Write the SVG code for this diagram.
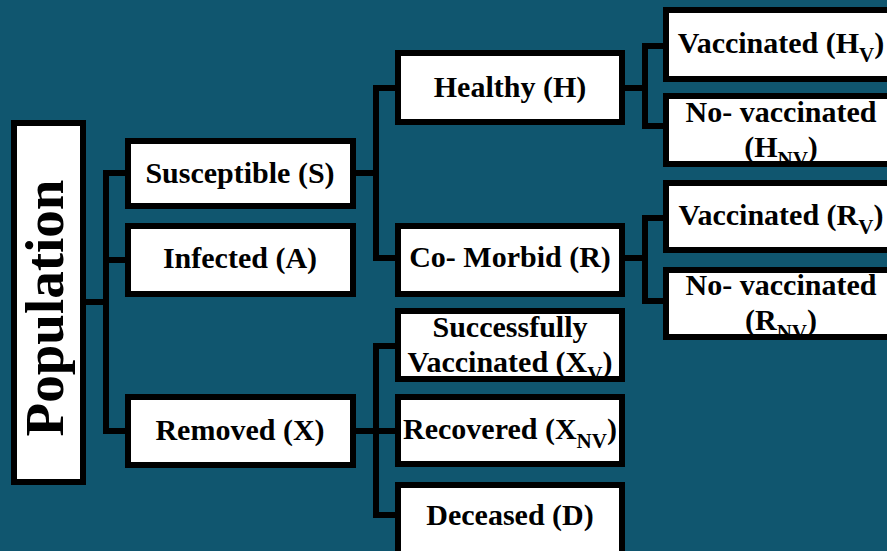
<svg xmlns="http://www.w3.org/2000/svg" width="887" height="551" viewBox="0 0 887 551">
<style>
.bg{fill:#10566F}
.fill{fill:#ffffff;stroke:none}
.frame{fill:none;stroke:#000000;stroke-width:6}
.lbl{font-family:"Liberation Serif","Times New Roman",serif;font-weight:bold;font-size:30px;fill:#000000;text-anchor:middle}
.big{font-size:55px}
.sub{font-size:21px}
.conn{fill:none;stroke:#000000;stroke-width:6;stroke-linejoin:miter;stroke-linecap:butt}
</style>
<rect class="bg" x="0" y="0" width="887" height="551"/>

<g id="connectors">
<path class="conn" d="M85 302 H106 M106 170 V434 M103 173 H126 M106 260 H126 M103 431 H126"/>
<path class="conn" d="M355 173 H376 M376 85 V261 M373 88 H396 M373 258 H396"/>
<path class="conn" d="M355 431 H376 M376 343 V518 M373 346 H396 M376 431 H396 M373 515 H396"/>
<path class="conn" d="M622 88 H645 M645 43 V129 M642 46 H664 M642 126 H664"/>
<path class="conn" d="M622 258 H645 M645 215 V304 M642 218 H664 M642 301 H664"/>
</g>

<g id="population">
<rect class="fill" x="14" y="123" width="69" height="359"/>
<text class="lbl big" transform="translate(63,308) rotate(-90)">Population</text>
<rect class="frame" x="14" y="123" width="69" height="359"/>
</g>

<g id="susceptible">
<rect class="fill" x="128" y="141" width="225" height="65"/>
<text class="lbl" x="240" y="183">Susceptible (S)</text>
<rect class="frame" x="128" y="141" width="225" height="65"/>
</g>

<g id="infected">
<rect class="fill" x="128" y="226" width="225" height="68"/>
<text class="lbl" x="240" y="268">Infected (A)</text>
<rect class="frame" x="128" y="226" width="225" height="68"/>
</g>

<g id="removed">
<rect class="fill" x="128" y="397" width="225" height="68"/>
<text class="lbl" x="240" y="440">Removed (X)</text>
<rect class="frame" x="128" y="397" width="225" height="68"/>
</g>

<g id="healthy">
<rect class="fill" x="398" y="53" width="224" height="69"/>
<text class="lbl" x="510" y="97">Healthy (H)</text>
<rect class="frame" x="398" y="53" width="224" height="69"/>
</g>

<g id="comorbid">
<rect class="fill" x="398" y="226" width="224" height="68"/>
<text class="lbl" x="510" y="267">Co- Morbid (R)</text>
<rect class="frame" x="398" y="226" width="224" height="68"/>
</g>

<g id="successfully-vaccinated">
<rect class="fill" x="398" y="311" width="224" height="68"/>
<text class="lbl" x="510" y="337">Successfully</text>
<text class="lbl" x="510" y="372">Vaccinated (X<tspan class="sub" dy="9">V</tspan><tspan dy="-9">)</tspan></text>
<rect class="frame" x="398" y="311" width="224" height="68"/>
</g>

<g id="recovered">
<rect class="fill" x="398" y="397" width="224" height="67"/>
<text class="lbl" x="510" y="439">Recovered (X<tspan class="sub" dy="9">NV</tspan><tspan dy="-9">)</tspan></text>
<rect class="frame" x="398" y="397" width="224" height="67"/>
</g>

<g id="deceased">
<rect class="fill" x="398" y="485" width="224" height="75"/>
<text class="lbl" x="510" y="525">Deceased (D)</text>
<rect class="frame" x="398" y="485" width="224" height="75"/>
</g>

<g id="healthy-vaccinated">
<rect class="fill" x="666" y="10" width="240" height="69"/>
<text class="lbl" x="781" y="53">Vaccinated (H<tspan class="sub" dy="9">V</tspan><tspan dy="-9">)</tspan></text>
<rect class="frame" x="666" y="10" width="240" height="69"/>
</g>

<g id="healthy-not-vaccinated">
<rect class="fill" x="666" y="96" width="240" height="68"/>
<text class="lbl" x="781" y="122">No- vaccinated</text>
<text class="lbl" x="781" y="157">(H<tspan class="sub" dy="9">NV</tspan><tspan dy="-9">)</tspan></text>
<rect class="frame" x="666" y="96" width="240" height="68"/>
</g>

<g id="comorbid-vaccinated">
<rect class="fill" x="666" y="183" width="240" height="67"/>
<text class="lbl" x="781" y="225">Vaccinated (R<tspan class="sub" dy="9">V</tspan><tspan dy="-9">)</tspan></text>
<rect class="frame" x="666" y="183" width="240" height="67"/>
</g>

<g id="comorbid-not-vaccinated">
<rect class="fill" x="666" y="270" width="240" height="67"/>
<text class="lbl" x="781" y="295">No- vaccinated</text>
<text class="lbl" x="781" y="330">(R<tspan class="sub" dy="9">NV</tspan><tspan dy="-9">)</tspan></text>
<rect class="frame" x="666" y="270" width="240" height="67"/>
</g>
</svg>
